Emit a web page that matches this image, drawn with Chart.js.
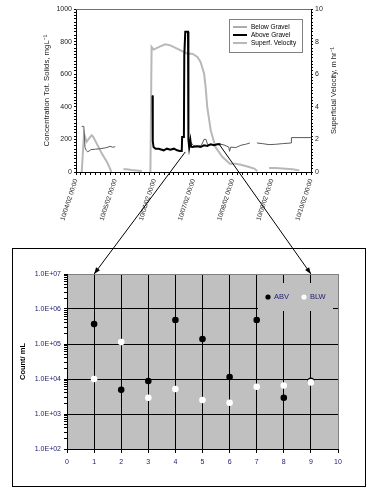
<!DOCTYPE html>
<html>
<head>
<meta charset="utf-8">
<script src="https://cdn.jsdelivr.net/npm/chart.js@4.4.0/dist/chart.umd.min.js"></script>
<style>
  body { margin: 0; background: #fff; }
  #wrap { position: relative; width: 389px; height: 497px; }
  #topChart { position: absolute; left: 0; top: 0; }
  #bottomBox { position: absolute; left: 12px; top: 248px; width: 352px; height: 237px; border: 1px solid #000; }
  #arrows { position: absolute; left: 0; top: 0; pointer-events: none; }
</style>
</head>
<body>
<div id="wrap">
  <canvas id="topChart" width="389" height="240"></canvas>
  <div id="bottomBox"><canvas id="bottomChart" width="352" height="237"></canvas></div>
  <canvas id="arrows" width="389" height="497"></canvas>
</div>
<script>
// --- top chart: days since 10/04/02 00:00 ---
const dayLabels = ['10/04/02 00:00', '10/05/02 00:00', '10/06/02 00:00', '10/07/02 00:00',
                   '10/08/02 00:00', '10/09/02 00:00', '10/10/02 00:00'];

const belowDays = [0.146, 0.20, 0.23, 0.26, 0.30, 0.38, 0.50, 0.62, 0.72, 0.79, 0.87, 0.93, 1.0, 1.5,
                   2.90, 3.0, 3.1, 3.2, 3.27, 3.32, 3.36, 3.5, 3.65, 3.78, 3.9, 3.92, 3.95, 4.08, 4.21, 4.33, 4.44, 4.53,
                   4.62, 4.76, 4.93, 5.1, 5.27, 5.49, 5.5, 6.0];
const belowVals = [280, 280, 150, 133, 123, 137, 140, 143, 147, 150, 158, 152, 155, null,
                   190, 162, 158, 163, 200, 200, 168, 168, 172, 166, 153, 127, 153, 150, 164, 170, 178, null,
                   178, 174, 168, 170, 174, 178, 211, 211];

const aboveDays = [1.935, 1.955, 1.96, 1.98, 2.03, 2.11, 2.24, 2.32, 2.41, 2.5, 2.58, 2.65, 2.70, 2.71, 2.755,
                   2.765, 2.78, 2.79, 2.86, 2.87, 2.89, 2.92, 2.94, 2.97, 3.1, 3.18, 3.27, 3.35, 3.44, 3.52, 3.61, 3.69];
const aboveVals = [464, 464, 190, 153, 143, 143, 133, 143, 137, 143, 133, 129, 129, 215, 215,
                   715, 715, 860, 860, 200, 150, 195, 155, 153, 158, 153, 164, 160, 170, 164, 170, 170];

const velDays = [0.146, 0.205, 0.27, 0.33, 0.40, 0.44, 0.53, 0.66, 0.79, 0.87, 0.90, 1.0,
                 1.21, 1.30, 1.42, 1.68, 1.8,
                 1.90, 1.93, 1.98, 2.15, 2.28, 2.41, 2.58, 2.71, 2.84, 2.97, 3.10, 3.18, 3.27, 3.31, 3.35,
                 3.44, 3.56, 3.74, 3.93, 4.08, 4.21, 4.42, 4.55, 4.63, 4.8,
                 4.93, 5.10, 5.53, 5.70];
const velVals = [0, 2.35, 1.85, 2.05, 2.25, 2.15, 1.74, 1.13, 0.61, 0.21, 0, null,
                 0.17, 0.17, 0.12, 0.06, null,
                 0, 7.67, 7.51, 7.71, 7.83, 7.77, 7.57, 7.42, 7.26, 7.26, 7.06, 6.75, 6.04, 5.21, 3.99,
                 2.56, 1.53, 0.92, 0.51, 0.50, 0.45, 0.31, 0.21, 0.06, null,
                 0.25, 0.25, 0.17, 0.10];

// --- bottom chart ---
const sampleNo = [1, 2, 3, 4, 5, 6, 7, 8, 9];
const abvCounts = [3.7e5, 4.9e3, 8.8e3, 4.85e5, 1.39e5, 1.14e4, 4.85e5, 2.9e3, 8.9e3];
const blwCounts = [1.0e4, 1.14e5, 2.9e3, 5.2e3, 2.5e3, 2.1e3, 6.0e3, 6.5e3, 8.0e3];

// arrows: from [day, mg/L] on the top chart to sample number at the top of the bottom chart
const arrowFrom = [[2.79, 123], [3.65, 172]];
const arrowTo = [1, 9];

const FONT = "Arial, 'Liberation Sans', sans-serif";
const NAVY = '#1c1c6e';
Chart.defaults.font.family = FONT;

function toPoints(xs, ys) {
  return xs.map((x, i) => ({ x: x, y: ys[i] }));
}

// grey frame line on top of the plot, right axis title + legend box
const topLegend = {
  id: 'topLegend',
  afterDraw(chart) {
    const { ctx, chartArea } = chart;
    ctx.save();
    ctx.strokeStyle = '#707070';
    ctx.lineWidth = 1;
    ctx.beginPath();
    ctx.moveTo(chartArea.left, chartArea.top + 0.5);
    ctx.lineTo(chartArea.right, chartArea.top + 0.5);
    ctx.stroke();

    // right title reads bottom-to-top like the left one
    ctx.save();
    ctx.translate(chartArea.right + 23, (chartArea.top + chartArea.bottom) / 2);
    ctx.rotate(-Math.PI / 2);
    ctx.font = '7.5px ' + FONT;
    ctx.fillStyle = '#222';
    ctx.textAlign = 'center';
    ctx.textBaseline = 'middle';
    ctx.fillText('Superficial Velocity, m hr⁻¹', 0, 0);
    ctx.restore();

    const x = chartArea.right - 82, y = chartArea.top + 10;
    ctx.fillStyle = '#fff';
    ctx.fillRect(x, y, 73, 33);
    ctx.strokeStyle = '#808080';
    ctx.strokeRect(x + 0.5, y + 0.5, 73, 33);
    ctx.font = '6.5px ' + FONT;
    ctx.textBaseline = 'middle';
    chart.data.datasets.forEach((ds, i) => {
      const ly = y + 8 + i * 8;
      ctx.strokeStyle = ds.borderColor;
      ctx.lineWidth = ds.borderWidth;
      ctx.beginPath();
      ctx.moveTo(x + 4, ly);
      ctx.lineTo(x + 18, ly);
      ctx.stroke();
      ctx.fillStyle = '#000';
      ctx.fillText(ds.label, x + 22, ly);
    });
    ctx.restore();
  }
};

const topChart = new Chart(document.getElementById('topChart'), {
  type: 'line',
  data: {
    datasets: [
      { label: 'Below Gravel', data: toPoints(belowDays, belowVals), borderColor: '#5a5a5a', borderWidth: 1, yAxisID: 'y', order: 1 },
      { label: 'Above Gravel', data: toPoints(aboveDays, aboveVals), borderColor: '#000000', borderWidth: 2, yAxisID: 'y', order: 0 },
      { label: 'Superf. Velocity', data: toPoints(velDays, velVals), borderColor: '#b8b8b8', borderWidth: 2, yAxisID: 'y1', order: 2 }
    ]
  },
  options: {
    responsive: false,
    animation: false,
    devicePixelRatio: 1,
    spanGaps: false,
    elements: { point: { radius: 0 }, line: { tension: 0 } },
    layout: { padding: { top: 9, right: 43, left: 0, bottom: 0 } },
    plugins: { legend: { display: false }, tooltip: { enabled: false } },
    scales: {
      x: {
        type: 'linear', min: 0, max: 6,
        ticks: {
          stepSize: 0.125, autoSkip: false, minRotation: 72, maxRotation: 72, padding: 3,
          color: '#222', font: { size: 6.5 },
          callback: v => Number.isInteger(v) ? dayLabels[v] : ''
        },
        grid: { drawOnChartArea: false, tickLength: 3, color: '#000' },
        border: { color: '#000' },
        afterFit: s => { s.height = 68; }
      },
      y: {
        position: 'left', min: 0, max: 1000,
        ticks: {
          stepSize: 20, autoSkip: false, padding: 2, color: '#222', font: { size: 7 },
          callback: v => v % 200 === 0 ? v : ''
        },
        grid: { drawOnChartArea: false, tickLength: 2, color: '#000' },
        border: { color: '#000' },
        title: { display: true, text: 'Concentration Tot. Solids, mgL⁻¹', color: '#222', font: { size: 7.8 }, padding: { top: 42, bottom: 0 } },
        afterFit: s => { s.width = 76; }
      },
      y1: {
        position: 'right', min: 0, max: 10,
        ticks: {
          stepSize: 0.2, autoSkip: false, padding: 2, color: '#222', font: { size: 7 },
          callback: v => {
            const r = Math.round(v);
            return Math.abs(v - r) < 1e-6 && r % 2 === 0 ? r : '';
          }
        },
        grid: { drawOnChartArea: false, tickLength: 2, color: '#000' },
        border: { color: '#000' },
        afterFit: s => { s.width = 35; }
      }
    }
  },
  plugins: [topLegend]
});

// log axis tick positions (1..9 per decade)
const logTicks = [];
for (let e = 2; e < 7; e++) {
  for (let m = 1; m < 10; m++) logTicks.push(m * Math.pow(10, e));
}
logTicks.push(1e7);

function isDecade(v) {
  const l = Math.log10(v);
  return Math.abs(l - Math.round(l)) < 1e-9;
}
function fmtExp(v) {
  return '1.0E+' + String(Math.round(Math.log10(v))).padStart(2, '0');
}

const bottomBg = {
  id: 'bottomBg',
  beforeDraw(chart) {
    const { ctx, chartArea } = chart;
    ctx.save();
    ctx.fillStyle = '#c0c0c0';
    ctx.fillRect(chartArea.left, chartArea.top, chartArea.right - chartArea.left, chartArea.bottom - chartArea.top);
    ctx.restore();
  },
  afterDatasetsDraw(chart) {
    const { ctx, chartArea } = chart;
    const x = chartArea.right - 80, y = chartArea.top + 9;
    ctx.save();
    ctx.fillStyle = '#c0c0c0';
    ctx.fillRect(x, y, 75, 28);
    ctx.font = '7.5px ' + FONT;
    ctx.textBaseline = 'middle';
    chart.data.datasets.forEach((ds, i) => {
      const dx = x + 10 + i * 36;
      ctx.fillStyle = ds.backgroundColor;
      ctx.beginPath();
      ctx.arc(dx, y + 14, 2.6, 0, Math.PI * 2);
      ctx.fill();
      ctx.fillStyle = NAVY;
      ctx.fillText(ds.label, dx + 6, y + 14);
    });
    ctx.restore();
  }
};

const bottomChart = new Chart(document.getElementById('bottomChart'), {
  type: 'scatter',
  data: {
    datasets: [
      { label: 'ABV', data: toPoints(sampleNo, abvCounts), backgroundColor: '#000', borderColor: '#000', pointRadius: 3.3, borderWidth: 0, order: 1 },
      { label: 'BLW', data: toPoints(sampleNo, blwCounts), backgroundColor: '#fff', borderColor: '#fff', pointRadius: 3.3, borderWidth: 0, order: 0 }
    ]
  },
  options: {
    responsive: false,
    animation: false,
    devicePixelRatio: 1,
    layout: { padding: { top: 25, right: 27, left: 0, bottom: 0 } },
    plugins: { legend: { display: false }, tooltip: { enabled: false } },
    scales: {
      x: {
        type: 'linear', min: 0, max: 10,
        ticks: { stepSize: 1, padding: 5, color: NAVY, font: { size: 7 } },
        grid: { color: c => (c.tick && c.tick.value === 10) ? '#808080' : '#000', tickColor: '#000', tickLength: 4 },
        border: { color: '#000' },
        afterFit: s => { s.height = 37; }
      },
      y: {
        type: 'logarithmic', min: 100, max: 1e7,
        afterBuildTicks: s => { s.ticks = logTicks.map(v => ({ value: v, major: isDecade(v) })); },
        ticks: { autoSkip: false, padding: 3, color: NAVY, font: { size: 7 }, callback: v => isDecade(v) ? fmtExp(v) : '' },
        grid: {
          color: c => {
            if (!c.tick || !isDecade(c.tick.value)) return 'rgba(0,0,0,0)';
            return c.tick.value === 1e7 ? '#808080' : '#000';
          },
          tickColor: '#000', tickLength: 3
        },
        border: { color: '#000' },
        title: { display: true, text: 'Count/ mL', color: '#000', font: { size: 7.5, weight: 'bold' }, padding: { top: 5, bottom: 0 } },
        afterFit: s => { s.width = 54; }
      }
    }
  },
  plugins: [bottomBg]
});

// arrows linking the two charts
function drawArrows() {
  const ctx = document.getElementById('arrows').getContext('2d');
  const bx = 13, by = 249;
  ctx.strokeStyle = '#000';
  ctx.fillStyle = '#000';
  ctx.lineWidth = 1;
  arrowFrom.forEach((p, i) => {
    const x1 = topChart.scales.x.getPixelForValue(p[0]);
    const y1 = topChart.scales.y.getPixelForValue(p[1]);
    const x2 = bx + bottomChart.scales.x.getPixelForValue(arrowTo[i]);
    const y2 = by + bottomChart.scales.y.getPixelForValue(1e7);
    ctx.beginPath();
    ctx.moveTo(x1, y1);
    ctx.lineTo(x2, y2);
    ctx.stroke();
    const a = Math.atan2(y2 - y1, x2 - x1);
    ctx.beginPath();
    ctx.moveTo(x2, y2);
    ctx.lineTo(x2 - 7 * Math.cos(a - 0.35), y2 - 7 * Math.sin(a - 0.35));
    ctx.lineTo(x2 - 7 * Math.cos(a + 0.35), y2 - 7 * Math.sin(a + 0.35));
    ctx.closePath();
    ctx.fill();
  });
}
drawArrows();
</script>
</body>
</html>
